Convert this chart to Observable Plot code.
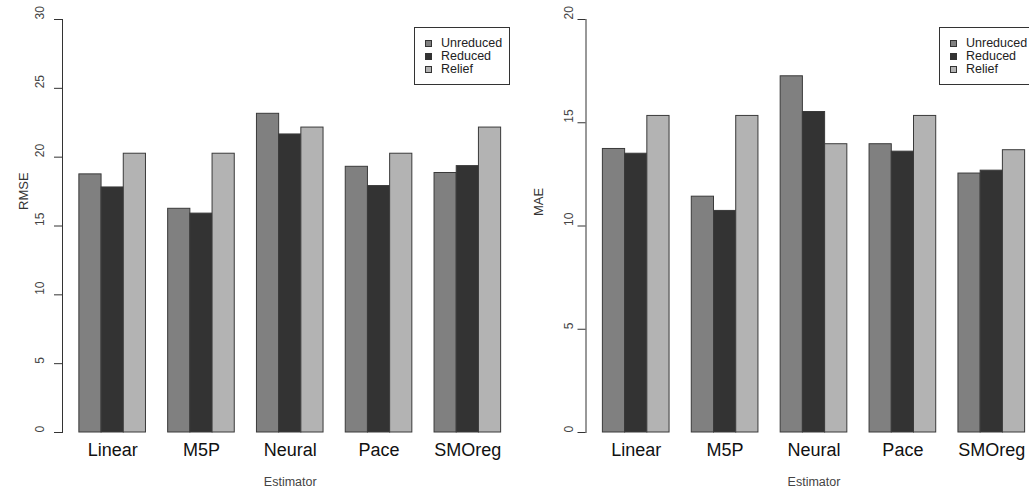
<!DOCTYPE html>
<html>
<head>
<meta charset="utf-8">
<script src="https://cdn.jsdelivr.net/npm/d3@7"></script>
<script src="https://cdn.jsdelivr.net/npm/@observablehq/plot@0.6"></script>
<style>
  html, body { margin: 0; padding: 0; background: #fff; overflow: hidden; }
  #wrap { position: relative; width: 1048px; height: 489px; display: flex; }
  .panel { position: relative; width: 524px; height: 489px; flex: none; }
  .legend { position: absolute; top: 27px; width: 96px; height: 58px; border: 1px solid #333;
            font-family: "Liberation Sans", Arial, sans-serif; font-size: 12.5px; color: #222; background: #fff; box-sizing: border-box; }
  .legend .row { position: absolute; left: 10px; height: 13px; line-height: 13px; white-space: nowrap; }
  .legend .sw { display: inline-block; width: 7px; height: 7px; border: 1px solid #333; box-sizing: border-box; margin-right: 9px; vertical-align: 0px; }
</style>
</head>
<body>
<div id="wrap"></div>
<script>
const estimators = ["Linear", "M5P", "Neural", "Pace", "SMOreg"];
const seriesNames = ["Unreduced", "Reduced", "Relief"];
const seriesColors = ["#808080", "#333333", "#b3b3b3"];

const rmseUnreduced = [18.75, 16.25, 23.15, 19.3, 18.85];
const rmseReduced   = [17.8, 15.9, 21.65, 17.9, 19.35];
const rmseRelief    = [20.25, 20.25, 22.15, 20.25, 22.15];

const maeUnreduced = [13.73, 11.42, 17.25, 13.96, 12.54];
const maeReduced   = [13.5, 10.73, 15.52, 13.6, 12.68];
const maeRelief    = [15.33, 15.33, 13.96, 15.33, 13.67];

const rmseTicks = [0, 5, 10, 15, 20, 25, 30];
const maeTicks = [0, 5, 10, 15, 20];

function buildRows(seriesValues) {
  const rows = [];
  estimators.forEach((est, gi) => {
    seriesNames.forEach((s, si) => {
      rows.push({est, series: s, value: seriesValues[si][gi], x1: gi * 4 + 1 + si, x2: gi * 4 + 2 + si});
    });
  });
  return rows;
}

const font = "Liberation Sans, Arial, sans-serif";

function panel({rows, ticks, ymax, ylabel, tickDx, labelDx, labelDy, marginLeft, legendLeft}) {
  const groups = estimators.map((e, i) => ({e, x: i * 4 + 2.5}));
  const chart = Plot.plot({
    width: 524,
    height: 489,
    marginTop: 19,
    marginBottom: 57,
    marginLeft,
    marginRight: 6.5,
    style: {fontFamily: font, background: "#fff"},
    x: {type: "linear", domain: [0.24, 20.76], axis: null},
    y: {domain: [0, ymax], axis: null},
    color: {domain: seriesNames, range: seriesColors},
    marks: [
      Plot.rectY(rows, {x1: "x1", x2: "x2", y: "value", fill: "series", stroke: "#3a3a3a", strokeWidth: 1}),
      Plot.frame({anchor: "left", stroke: "#333"}),
      Plot.axisY({ticks, tickSize: 8, tickFormat: () => "", label: null, stroke: "#333"}),
      Plot.text(ticks, {y: d => d, text: d => String(d), frameAnchor: "left", dx: tickDx, rotate: -90, fontSize: 12, fill: "#444"}),
      Plot.text([ylabel], {frameAnchor: "left", dx: labelDx, dy: labelDy, rotate: -90, fontSize: 13, fill: "#333"}),
      Plot.text(groups, {x: "x", text: "e", frameAnchor: "bottom", dy: 23, fontSize: 18, fill: "#111"}),
      Plot.text(["Estimator"], {frameAnchor: "bottom", dy: 53, fontSize: 12.5, fill: "#444"})
    ]
  });
  const div = document.createElement("div");
  div.className = "panel";
  div.appendChild(chart);
  const lg = document.createElement("div");
  lg.className = "legend";
  lg.style.left = legendLeft + "px";
  seriesNames.forEach((s, i) => {
    const r = document.createElement("div");
    r.className = "row";
    r.style.top = (9 + i * 13) + "px";
    const sw = document.createElement("span");
    sw.className = "sw";
    sw.style.background = seriesColors[i];
    r.appendChild(sw);
    r.appendChild(document.createTextNode(s));
    lg.appendChild(r);
  });
  div.appendChild(lg);
  return div;
}

const wrap = document.getElementById("wrap");
wrap.appendChild(panel({
  rows: buildRows([rmseUnreduced, rmseReduced, rmseRelief]),
  ticks: rmseTicks, ymax: 30, ylabel: "RMSE",
  tickDx: -22, labelDx: -39, labelDy: -16, marginLeft: 62, legendLeft: 414
}));
wrap.appendChild(panel({
  rows: buildRows([maeUnreduced, maeReduced, maeRelief]),
  ticks: maeTicks, ymax: 20, ylabel: "MAE",
  tickDx: -17, labelDx: -47, labelDy: -10, marginLeft: 61.5, legendLeft: 415
}));
</script>
</body>
</html>
